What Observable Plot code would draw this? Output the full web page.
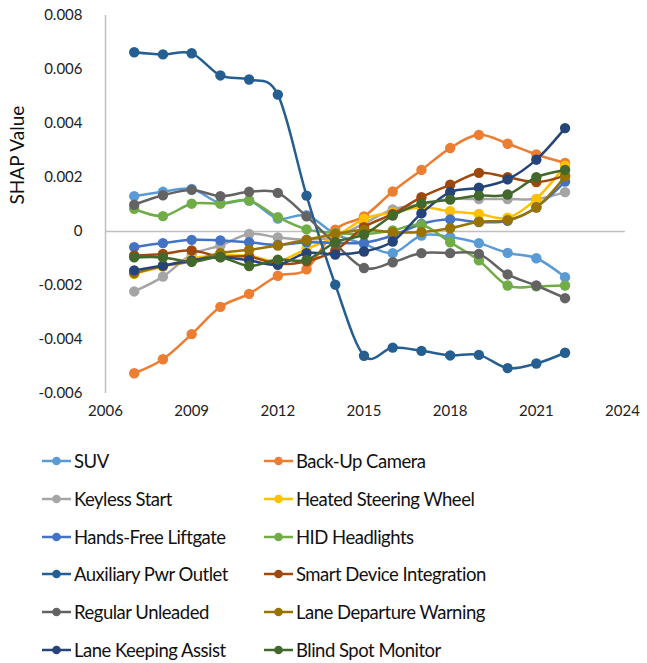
<!DOCTYPE html>
<html>
<head>
<meta charset="utf-8">
<script src="https://cdn.jsdelivr.net/npm/d3@7"></script>
<script src="https://cdn.jsdelivr.net/npm/@observablehq/plot@0.6"></script>
<style>
  body { margin: 0; background: #fff; }
  #chart { width: 647px; }
  .legend { position: relative; width: 647px; height: 221px; font-family: Lato, "Open Sans", sans-serif; font-size: 18.5px; letter-spacing: -0.5px; color: #111; }
  .item { position: absolute; display: flex; align-items: center; height: 38px; white-space: nowrap; }
  .item svg { margin-right: 2px; }
</style>
</head>
<body>
<div id="chart"></div>
<div class="legend" id="legend"></div>
<script>
const years = [2007, 2008, 2009, 2010, 2011, 2012, 2013, 2014, 2015, 2016, 2017, 2018, 2019, 2020, 2021, 2022];

const suv = [0.00131, 0.00147, 0.00158, 0.00105, 0.00115, 0.00048, 0.0006, -0.0001, -0.00046, -0.0008, -0.00015, -0.0002, -0.00043, -0.00079, -0.00099, -0.00169];
const backUpCamera = [-0.00525, -0.00473, -0.0038, -0.00279, -0.00231, -0.00164, -0.0014, 0.00007, 0.00056, 0.00148, 0.00228, 0.00309, 0.00358, 0.00325, 0.00285, 0.00254];
const keylessStart = [-0.00222, -0.00167, -0.00085, -0.00052, -0.00009, -0.00022, -0.0003, -0.0002, 0.0003, 0.00082, 0.001, 0.0012, 0.0012, 0.0012, 0.0012, 0.00146];
const heatedSteeringWheel = [-0.00157, -0.0013, -0.001, -0.00088, -0.0009, -0.0011, -0.00064, -0.0002, 0.00047, 0.0007, 0.0009, 0.00075, 0.00065, 0.00051, 0.00121, 0.00244];
const handsFreeLiftgate = [-0.00058, -0.00043, -0.00031, -0.00033, -0.0004, -0.0005, -0.0004, -0.00042, -0.00042, -0.00015, 0.00028, 0.00045, 0.00035, 0.0004, 0.0009, 0.00185];
const hidHeadlights = [0.00084, 0.00057, 0.00103, 0.00103, 0.00115, 0.00053, 0.00008, -0.00005, -0.0001, 0.00004, 0.00025, -0.0004, -0.00107, -0.002, -0.00203, -0.002];
const auxPwrOutlet = [0.00664, 0.00656, 0.0066, 0.00578, 0.00563, 0.00507, 0.00133, -0.00197, -0.0046, -0.0043, -0.00442, -0.00459, -0.00457, -0.00506, -0.00489, -0.00449];
const smartDevice = [-0.00089, -0.00083, -0.0007, -0.00093, -0.00093, -0.0012, -0.0011, -0.0007, 0.00016, 0.00065, 0.00127, 0.00173, 0.00217, 0.00201, 0.00183, 0.00207];
const regularUnleaded = [0.00099, 0.00134, 0.00154, 0.00131, 0.00147, 0.00143, 0.00056, -0.00045, -0.00135, -0.00114, -0.0008, -0.0008, -0.00083, -0.00159, -0.002, -0.00247];
const laneDeparture = [-0.00155, -0.00128, -0.0011, -0.0008, -0.00068, -0.00052, -0.00031, -0.00009, 0.00006, -0.00003, -0.00002, 0.00012, 0.00036, 0.00042, 0.00089, 0.00204];
const laneKeeping = [-0.00144, -0.00126, -0.00107, -0.00095, -0.00107, -0.00123, -0.0008, -0.00085, -0.00074, -0.00037, 0.00067, 0.00146, 0.00162, 0.00193, 0.00266, 0.00383];
const blindSpot = [-0.00096, -0.00096, -0.00112, -0.00096, -0.00128, -0.00104, -0.00105, -0.0004, -0.00011, 0.00059, 0.00103, 0.00118, 0.00133, 0.00137, 0.00201, 0.00228];

const seriesNames = ["SUV", "Back-Up Camera", "Keyless Start", "Heated Steering Wheel", "Hands-Free Liftgate", "HID Headlights", "Auxiliary Pwr Outlet", "Smart Device Integration", "Regular Unleaded", "Lane Departure Warning", "Lane Keeping Assist", "Blind Spot Monitor"];
const seriesValues = [suv, backUpCamera, keylessStart, heatedSteeringWheel, handsFreeLiftgate, hidHeadlights, auxPwrOutlet, smartDevice, regularUnleaded, laneDeparture, laneKeeping, blindSpot];
const seriesColors = ["#5B9BD5", "#ED7D31", "#A5A5A5", "#FFC000", "#4472C4", "#70AD47", "#255E91", "#9E480E", "#636363", "#997300", "#264478", "#43682B"];

const xTicks = [2006, 2009, 2012, 2015, 2018, 2021, 2024];
const yTicks = [-0.006, -0.004, -0.002, 0, 0.002, 0.004, 0.006, 0.008];
const yLabel = "SHAP Value";

const marks = [];
marks.push(Plot.ruleY([0], {x1: 2006, x2: 2024.1, stroke: "#BFBFBF", strokeWidth: 1.5}));
marks.push(Plot.ruleX([2006], {y1: -0.006, y2: 0.008, stroke: "#BFBFBF", strokeWidth: 1.5}));
seriesNames.forEach((name, i) => {
  const data = years.map((yr, j) => ({year: yr, value: seriesValues[i][j], series: name}));
  marks.push(Plot.line(data, {x: "year", y: "value", stroke: seriesColors[i], strokeWidth: 2.5, curve: "cardinal"}));
  marks.push(Plot.dot(data, {x: "year", y: "value", fill: seriesColors[i], r: 5.2}));
});
marks.push(Plot.axisX({ticks: xTicks, tickSize: 0, tickPadding: 12, tickFormat: d => String(d), fontSize: 15}));
marks.push(Plot.axisY({ticks: yTicks, tickSize: 0, tickPadding: 23, tickFormat: d => Math.abs(d) < 1e-12 ? "0" : d.toFixed(3), fontSize: 15}));
marks.push(Plot.text([yLabel], {frameAnchor: "left", rotate: -90, dx: -88, fontSize: 19, fill: "#111"}));

const chart = Plot.plot({
  width: 647,
  height: 442,
  marginLeft: 105,
  marginRight: 25,
  marginTop: 15,
  marginBottom: 49,
  x: {domain: [2006, 2024], label: null},
  y: {domain: [-0.006, 0.008], label: null},
  style: {fontFamily: "Lato, 'Open Sans', sans-serif", fontSize: "15px", color: "#222", background: "white"},
  marks
});
document.getElementById("chart").appendChild(chart);

const legend = document.getElementById("legend");
seriesNames.forEach((name, i) => {
  const col = i % 2, row = Math.floor(i / 2);
  const item = document.createElement("div");
  item.className = "item";
  item.style.left = (col === 0 ? 42 : 264) + "px";
  item.style.top = (row * 37.8) + "px";
  item.innerHTML = `<svg width="30" height="12"><line x1="0" y1="6" x2="29" y2="6" stroke="${seriesColors[i]}" stroke-width="2.5"/><circle cx="14.5" cy="6" r="4.3" fill="${seriesColors[i]}"/></svg><span>${name}</span>`;
  legend.appendChild(item);
});
</script>
</body>
</html>
